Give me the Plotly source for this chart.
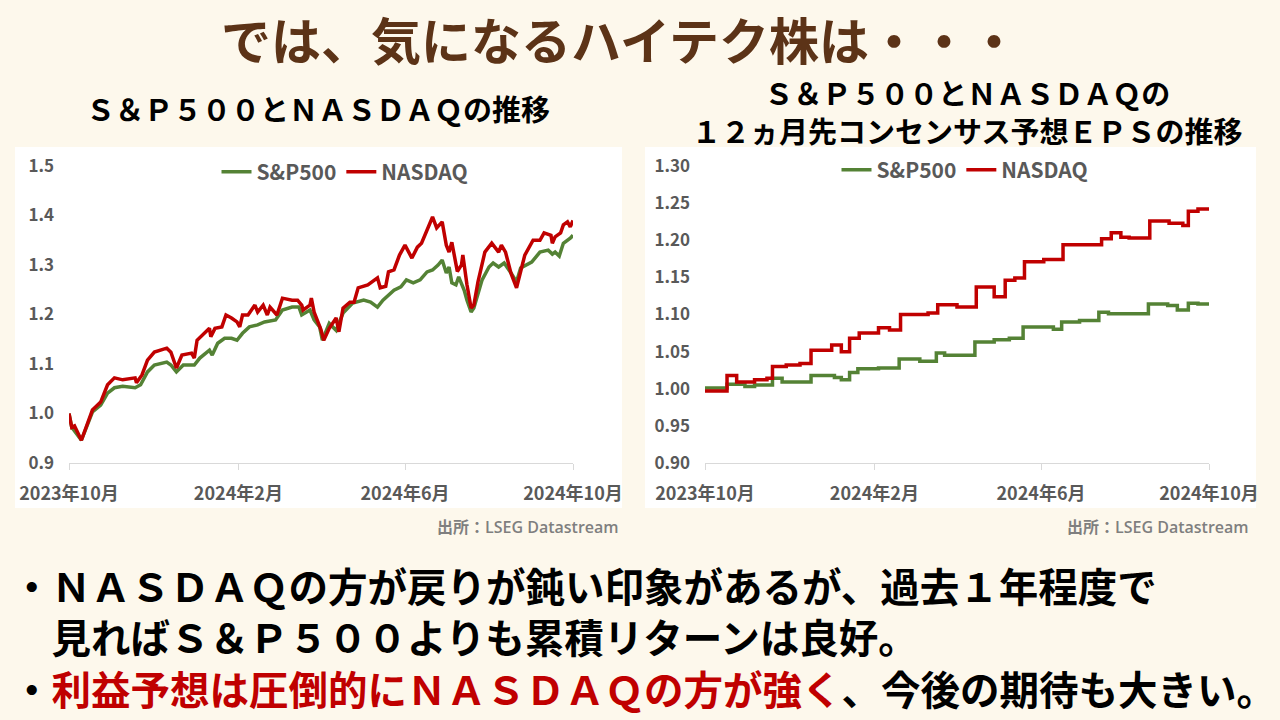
import plotly.graph_objects as go

# ---------------- data ----------------
# Left: S&P500 and NASDAQ price index (2023-10 = 1.0)
spx_dates = ["2023-10-01","2023-10-03","2023-10-10","2023-10-18","2023-10-24","2023-10-29","2023-11-03","2023-11-09",
             "2023-11-18","2023-11-22","2023-11-27","2023-12-02","2023-12-11","2023-12-14","2023-12-18","2023-12-23",
             "2023-12-31","2024-01-04","2024-01-11","2024-01-13","2024-01-17","2024-01-22","2024-01-27","2024-01-31",
             "2024-02-04","2024-02-09","2024-02-15","2024-02-20","2024-02-28","2024-03-04","2024-03-11","2024-03-16",
             "2024-03-18","2024-03-24","2024-03-27","2024-03-31","2024-04-02","2024-04-07","2024-04-12","2024-04-17",
             "2024-04-24","2024-05-02","2024-05-07","2024-05-12","2024-05-16","2024-05-24","2024-05-29","2024-06-02",
             "2024-06-07","2024-06-12","2024-06-17","2024-06-21","2024-06-25","2024-06-28","2024-07-01","2024-07-03",
             "2024-07-05","2024-07-08","2024-07-10","2024-07-14","2024-07-16","2024-07-19","2024-07-21","2024-07-24",
             "2024-07-27","2024-08-01","2024-08-04","2024-08-08","2024-08-12","2024-08-17","2024-08-21","2024-08-24",
             "2024-08-28","2024-09-01","2024-09-07","2024-09-13","2024-09-16","2024-09-18","2024-09-21","2024-09-24",
             "2024-09-29","2024-10-01"]
spx_vals = [1.000,0.972,0.946,1.003,1.017,1.041,1.052,1.055,
            1.052,1.058,1.084,1.098,1.104,1.098,1.084,1.098,
            1.098,1.112,1.128,1.118,1.142,1.152,1.152,1.148,
            1.162,1.175,1.179,1.185,1.189,1.209,1.215,1.215,
            1.199,1.209,1.189,1.175,1.148,1.182,1.168,1.203,
            1.223,1.229,1.225,1.215,1.229,1.249,1.256,1.270,
            1.264,1.270,1.286,1.290,1.300,1.310,1.284,1.296,
            1.264,1.260,1.276,1.249,1.229,1.205,1.213,1.243,
            1.270,1.296,1.304,1.296,1.304,1.284,1.266,1.294,
            1.300,1.306,1.326,1.330,1.322,1.326,1.318,1.344,
            1.354,1.360]

ndq_dates = ["2023-10-01","2023-10-03","2023-10-05","2023-10-10","2023-10-18","2023-10-24","2023-10-29","2023-11-03",
             "2023-11-09","2023-11-18","2023-11-19","2023-11-23","2023-11-27","2023-12-02","2023-12-11","2023-12-14",
             "2023-12-18","2023-12-22","2023-12-29","2023-12-31","2024-01-02","2024-01-09","2024-01-11","2024-01-12",
             "2024-01-15","2024-01-20","2024-01-23","2024-01-27","2024-01-31","2024-02-02","2024-02-04","2024-02-08",
             "2024-02-13","2024-02-15","2024-02-19","2024-02-22","2024-02-24","2024-02-29","2024-03-04","2024-03-11",
             "2024-03-15","2024-03-18","2024-03-19","2024-03-24","2024-03-25","2024-03-27","2024-04-01","2024-04-03",
             "2024-04-07","2024-04-12","2024-04-14","2024-04-17","2024-04-22","2024-04-25","2024-04-28","2024-05-05",
             "2024-05-08","2024-05-12","2024-05-14","2024-05-18","2024-05-20","2024-05-24","2024-05-28","2024-06-01",
             "2024-06-06","2024-06-10","2024-06-13","2024-06-18","2024-06-21","2024-06-24","2024-06-28","2024-07-01",
             "2024-07-03","2024-07-05","2024-07-08","2024-07-09","2024-07-12","2024-07-13","2024-07-16","2024-07-19",
             "2024-07-21","2024-07-24","2024-07-29","2024-08-03","2024-08-08","2024-08-10","2024-08-13","2024-08-17",
             "2024-08-21","2024-08-23","2024-08-27","2024-09-02","2024-09-07","2024-09-10","2024-09-15","2024-09-16",
             "2024-09-18","2024-09-22","2024-09-24","2024-09-27","2024-09-29","2024-10-01"]
ndq_vals = [1.000,0.972,0.975,0.946,1.007,1.023,1.058,1.072,
            1.068,1.072,1.062,1.078,1.108,1.124,1.132,1.124,
            1.092,1.118,1.122,1.112,1.148,1.165,1.172,1.155,
            1.172,1.175,1.199,1.193,1.185,1.175,1.199,1.199,
            1.219,1.205,1.219,1.199,1.215,1.199,1.233,1.229,
            1.229,1.219,1.209,1.219,1.233,1.205,1.169,1.148,
            1.172,1.193,1.165,1.213,1.225,1.225,1.254,1.260,
            1.266,1.274,1.254,1.257,1.286,1.290,1.320,1.340,
            1.314,1.336,1.344,1.377,1.397,1.375,1.387,1.340,
            1.326,1.346,1.306,1.287,1.300,1.320,1.260,1.213,
            1.219,1.266,1.326,1.344,1.326,1.340,1.326,1.283,
            1.254,1.274,1.320,1.350,1.350,1.365,1.360,1.344,
            1.357,1.365,1.381,1.387,1.377,1.390]

# Right: 12-month forward consensus EPS (2023-10 = 1.0), step changes
spx_eps_dates = ["2023-10-01","2023-10-17","2023-10-30","2023-11-06","2023-11-19","2023-11-26","2023-12-17","2024-01-03",
                 "2024-01-08","2024-01-14","2024-01-20","2024-02-04","2024-02-19","2024-03-05","2024-03-17","2024-03-23",
                 "2024-04-14","2024-04-28","2024-05-09","2024-05-19","2024-06-10","2024-06-16","2024-06-29","2024-07-13",
                 "2024-07-20","2024-08-18","2024-09-01","2024-09-08","2024-09-16","2024-09-23","2024-10-01"]
spx_eps_vals = [1.001,1.006,1.003,1.005,1.014,1.009,1.018,1.015,
                1.012,1.022,1.027,1.028,1.040,1.037,1.048,1.045,
                1.063,1.066,1.068,1.083,1.080,1.090,1.092,1.103,
                1.101,1.114,1.112,1.106,1.115,1.114,1.113]

ndq_eps_dates = ["2023-10-01","2023-10-17","2023-10-24","2023-11-06","2023-11-15","2023-11-19","2023-11-29","2023-12-09",
                 "2023-12-17","2024-01-01","2024-01-08","2024-01-14","2024-01-21","2024-02-04","2024-02-12","2024-02-20",
                 "2024-03-11","2024-03-18","2024-04-01","2024-04-15","2024-04-28","2024-05-06","2024-05-13","2024-05-20",
                 "2024-06-03","2024-06-17","2024-07-15","2024-07-22","2024-07-29","2024-08-04","2024-08-19","2024-09-02",
                 "2024-09-12","2024-09-16","2024-09-23","2024-10-01"]
ndq_eps_vals = [0.997,1.018,1.009,1.012,1.014,1.030,1.032,1.034,
                1.052,1.059,1.050,1.068,1.075,1.082,1.079,1.100,
                1.102,1.113,1.110,1.137,1.124,1.146,1.149,1.171,
                1.174,1.194,1.202,1.210,1.204,1.203,1.226,1.223,
                1.220,1.239,1.242,1.242]

tick_dates = ["2023-10-01", "2024-02-01", "2024-06-01", "2024-10-01"]
tick_labels = ["2023年10月", "2024年2月", "2024年6月", "2024年10月"]
left_yticks = [0.9, 1.0, 1.1, 1.2, 1.3, 1.4, 1.5]
right_yticks = [0.90, 0.95, 1.00, 1.05, 1.10, 1.15, 1.20, 1.25, 1.30]

series_names = ["S&P500", "NASDAQ"]
GREEN = "#548235"
RED = "#C00000"
BG = "#FDF8EC"
TICKGRAY = "#595959"
CJK = "Noto Sans CJK JP"

W, H = 1280, 720
def px(x):
    return x / W
def py(y):
    return (H - y) / H

fig = go.Figure()

fig.add_trace(go.Scatter(x=spx_dates, y=spx_vals, mode="lines", name=series_names[0],
                         line=dict(color=GREEN, width=3.5), xaxis="x", yaxis="y", legend="legend"))
fig.add_trace(go.Scatter(x=ndq_dates, y=ndq_vals, mode="lines", name=series_names[1],
                         line=dict(color=RED, width=3.5), xaxis="x", yaxis="y", legend="legend"))
fig.add_trace(go.Scatter(x=spx_eps_dates, y=spx_eps_vals, mode="lines", name=series_names[0],
                         line=dict(color=GREEN, width=3.5, shape="hv"), xaxis="x2", yaxis="y2", legend="legend2"))
fig.add_trace(go.Scatter(x=ndq_eps_dates, y=ndq_eps_vals, mode="lines", name=series_names[1],
                         line=dict(color=RED, width=3.5, shape="hv"), xaxis="x2", yaxis="y2", legend="legend2"))

xtickfont = dict(family=CJK, size=18, color=TICKGRAY, weight="bold")
ytickfont = dict(family=CJK, size=17, color=TICKGRAY, weight="bold")
xcommon = dict(type="date", range=["2023-10-01", "2024-10-01"], tickmode="array",
               tickvals=tick_dates, ticktext=tick_labels, showgrid=False, zeroline=False,
               showline=True, linecolor="#d9d9d9", linewidth=1, ticks="outside", ticklen=6,
               tickcolor="#d9d9d9", tickfont=xtickfont, ticklabelstandoff=8, fixedrange=True,
               automargin=False)
ycommon = dict(showgrid=False, zeroline=False, showline=False, ticks="", tickfont=ytickfont,
               ticklabelstandoff=14, fixedrange=True, automargin=False)

legfont = dict(family=CJK, size=21, color=TICKGRAY, weight="bold")
fig.update_layout(
    width=W, height=H, autosize=False,
    margin=dict(l=0, r=0, t=0, b=0, pad=0, autoexpand=False),
    paper_bgcolor=BG, plot_bgcolor="white",
    xaxis=dict(domain=[px(69), px(573)], anchor="y", **xcommon),
    yaxis=dict(domain=[py(463), py(166)], anchor="x", range=[0.9, 1.5], tickvals=left_yticks,
               tickformat=".1f", **ycommon),
    xaxis2=dict(domain=[px(705), px(1209)], anchor="y2", **xcommon),
    yaxis2=dict(domain=[py(463), py(166)], anchor="x2", range=[0.9, 1.3], tickvals=right_yticks,
                tickformat=".2f", **ycommon),
    legend=dict(orientation="h", x=px(345), xanchor="center", y=py(172), yanchor="middle",
                bgcolor="rgba(0,0,0,0)", font=legfont, itemwidth=30),
    legend2=dict(orientation="h", x=px(965), xanchor="center", y=py(170), yanchor="middle",
                 bgcolor="rgba(0,0,0,0)", font=legfont, itemwidth=30),
    showlegend=True,
)

# white chart panels
for x0, x1 in [(15, 622), (645, 1256)]:
    fig.add_shape(type="rect", xref="paper", yref="paper", x0=px(x0), x1=px(x1), y0=py(508), y1=py(147),
                  fillcolor="white", line=dict(width=0), layer="below")

def note(text, x, y, size, color="black", xanchor="center", weight="bold", family=CJK, align="center"):
    fig.add_annotation(text=text, x=px(x), y=py(y), xref="paper", yref="paper", showarrow=False,
                       xanchor=xanchor, yanchor="middle", align=align,
                       font=dict(family=family, size=size, color=color, weight=weight))

note("では、気になるハイテク株は・・・", 620, 38, 50, color="#5C3317")
note("Ｓ＆Ｐ５００とＮＡＳＤＡＱの推移", 318, 108, 29)
note("Ｓ＆Ｐ５００とＮＡＳＤＡＱの<br>１２ヵ月先コンセンサス予想ＥＰＳの推移", 967, 110.5, 29)
note("出所：LSEG Datastream", 621, 527, 16, color="#7F7F7F", xanchor="right", weight=600,
     family="Open Sans, Noto Sans CJK JP")
note("出所：LSEG Datastream", 1251, 527, 16, color="#7F7F7F", xanchor="right", weight=600,
     family="Open Sans, Noto Sans CJK JP")
note("・ＮＡＳＤＡＱの方が戻りが鈍い印象があるが、過去１年程度で<br>"
     "　見ればＳ＆Ｐ５００よりも累積リターンは良好。<br>"
     "・<span style='color:#C00000'>利益予想は圧倒的にＮＡＳＤＡＱの方が強く</span>、今後の期待も大きい。",
     10, 635.5, 39.5, xanchor="left", align="left")

fig.write_html("out.html")
